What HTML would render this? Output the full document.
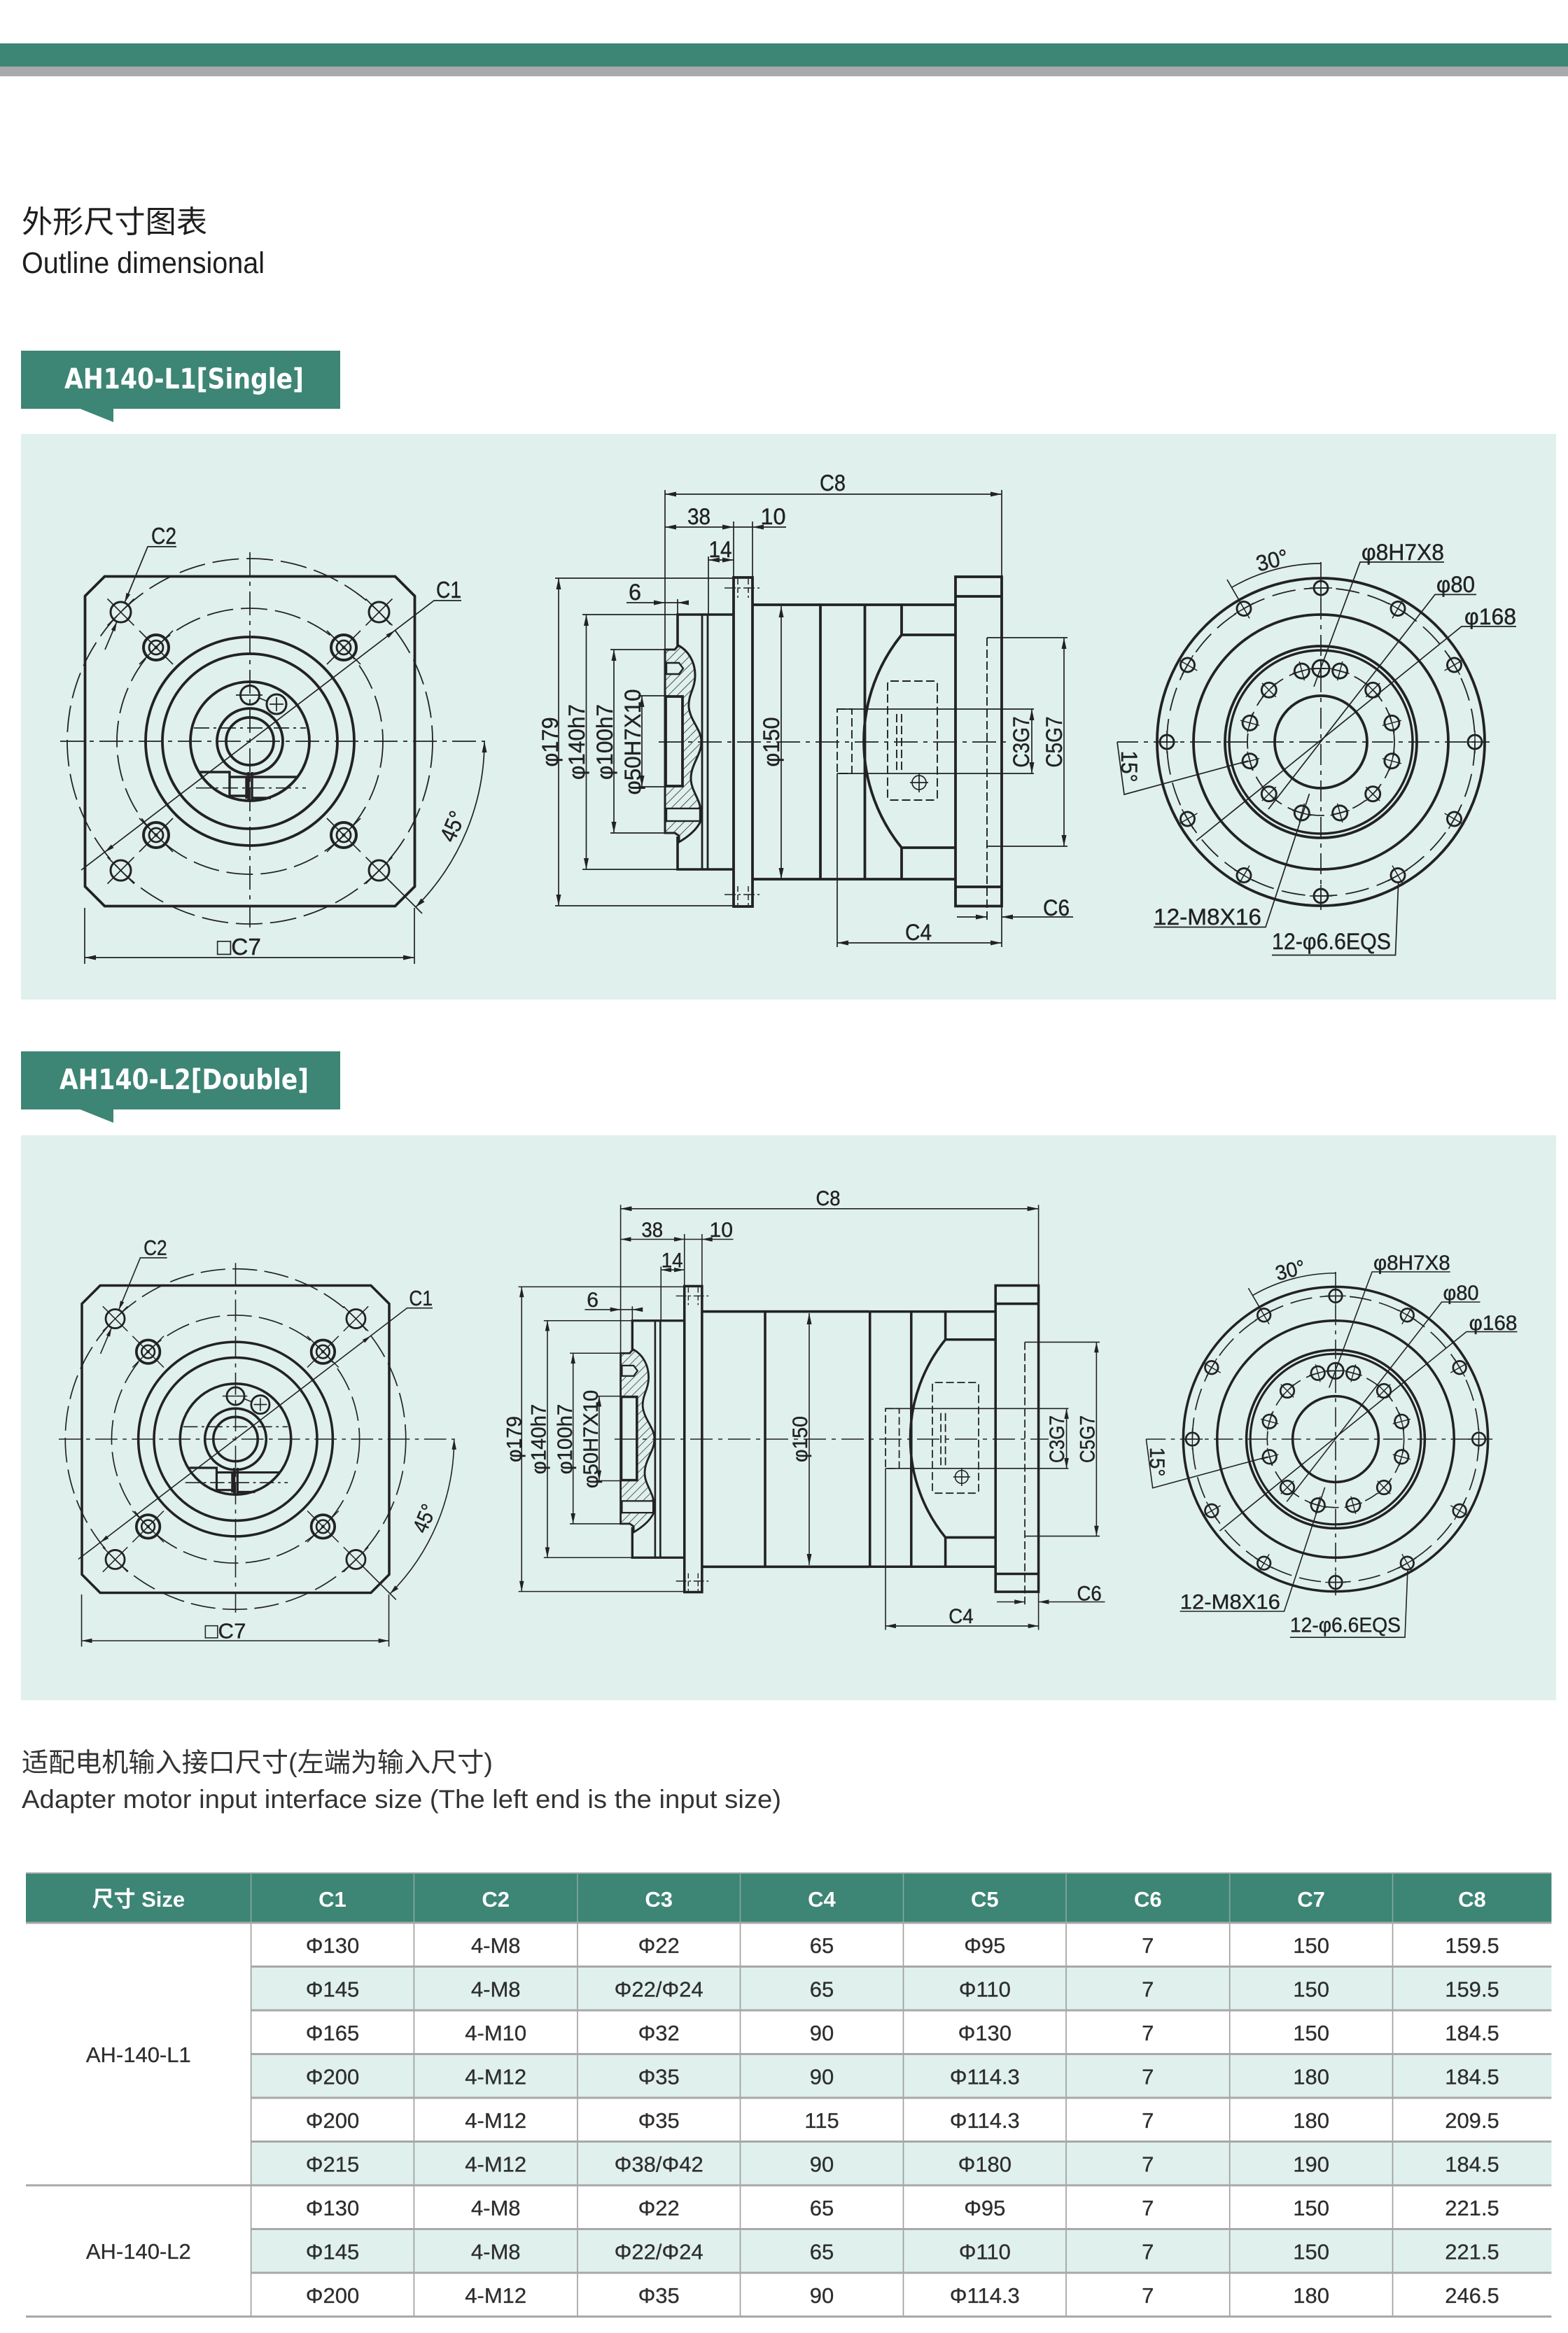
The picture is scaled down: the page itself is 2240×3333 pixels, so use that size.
<!DOCTYPE html>
<html><head><meta charset="utf-8">
<style>
html,body{margin:0;padding:0;background:#fff;}
svg{display:block;}
text{font-family:"Liberation Sans","Noto Sans CJK SC",sans-serif;}
</style></head><body>
<svg xmlns="http://www.w3.org/2000/svg" width="2240" height="3333" viewBox="0 0 2240 3333">
<defs>
 <pattern id="hatch" patternUnits="userSpaceOnUse" width="9" height="9" patternTransform="rotate(45)">
  <line x1="0" y1="0" x2="0" y2="9" stroke="#2a2a2a" stroke-width="1.6"/>
 </pattern>
 <marker id="ar" viewBox="0 0 16 7" refX="16" refY="3.5" markerWidth="16" markerHeight="7" orient="auto-start-reverse" markerUnits="userSpaceOnUse">
  <path d="M0,0 L16,3.5 L0,7 z" fill="#222"/>
 </marker>
 <g id="hA" fill="none" stroke="#222"><circle r="18" stroke-width="4"/><circle r="10" stroke-width="2.8"/><circle r="2.5" fill="#222" stroke="none"/><path stroke-width="1.6" d="M-24,-24 L24,24 M-24,24 L24,-24"/></g>
 <g id="hB" fill="none" stroke="#222"><circle r="14.5" stroke-width="3"/><path stroke-width="1.6" d="M-19,-19 L19,19 M-19,19 L19,-19"/></g>
 <g id="hC" fill="none" stroke="#222"><circle r="10" stroke-width="2.9"/><path stroke-width="1.5" d="M-16,0 H16 M0,-16 V16"/></g>
 <g id="hD" fill="none" stroke="#222"><circle r="10.5" stroke-width="2.9"/><path stroke-width="1.5" d="M-14,0 H14 M0,-14 V14"/></g>

 <g id="fvg" fill="none" stroke="#222">
  <path stroke-width="3.8" d="M-207.5,-235.5 H207.5 L235.5,-207.5 V207.5 L207.5,235.5 H-207.5 L-235.5,207.5 V-207.5 Z"/>
  <g stroke-width="1.8" stroke-dasharray="38 11"><circle r="261"/><circle r="190"/></g>
  <g stroke-width="3.8"><circle r="149"/><circle r="125"/><circle r="85"/><circle r="47"/><circle r="34"/></g>
  <circle cx="0" cy="-66" r="13.5" stroke-width="3"/>
  <circle cx="38" cy="-53" r="14" stroke-width="3"/>
  <path stroke-width="1.7" d="M-20,-66 H18 M28,-53 H48 M38,-63 V-43 M13,-62 L25,-57"/>
  <path stroke-width="1.7" stroke-dasharray="22 6 4 6" d="M-80,-19 H80 M-77,66.7 H80"/>
  <path stroke-width="3.4" d="M-71,44 H-29 V78 H-5 M-29,51 H68 M-5,51 V82 M-2,44 V85 M3,44 V85 M3,81 H30"/>
  <path stroke-width="1.7" stroke-dasharray="34 8 6 8" d="M0,-270 V266 M-271,0 H336"/>
  <use href="#hA" transform="translate(-134,-134)"/><use href="#hA" transform="translate(134,-134)"/>
  <use href="#hA" transform="translate(-134,134)"/><use href="#hA" transform="translate(134,134)"/>
  <use href="#hB" transform="translate(-184.5,-184.5)"/><use href="#hB" transform="translate(184.5,-184.5)"/>
  <use href="#hB" transform="translate(-184.5,184.5)"/><use href="#hB" transform="translate(184.5,184.5)"/>
  <path stroke-width="1.7" d="M-241,184 L263,-201 H302 M-105,-278 H-146 L-179,-198 M-190,-171 L-207,-131 M200,200 L246,246 M-236,238 V318 M235,238 V318 M-236,309 H235 M335,0 A335,335 0 0 1 236.9,236.9"/>
  <g fill="#222" stroke="none">
   <polygon points="207.5,-158.5 198.2,-147.6 194.6,-152.4"/>
   <polygon points="-207.5,158.5 -194.6,152.4 -198.2,147.6"/>
   <polygon points="-179,-197.9 -170.9,-209.8 -176.5,-212"/>
   <polygon points="-190,-171.1 -192.5,-157 -198.1,-159.2"/>
   <polygon points="335,0 331.5,16 338.5,16"/>
   <polygon points="236.9,236.9 249.5,229.5 244.5,224.5"/>
   <polygon points="-236,309 -220,305.5 -220,312.5"/>
   <polygon points="235,309 219,305.5 219,312.5"/>
  </g>
 </g>

 <g id="svL" fill="none" stroke="#222">
  <path fill="url(#hatch)" stroke-width="3" d="M950,928 H964 L969,922 C984,930 993,946 993,965 C993,984 983,992 984,1010 C986,1030 1002,1042 1002,1060 C1002,1078 987,1092 987,1112 C987,1130 1001,1142 1001,1160 L1001,1173 C995,1186 982,1196 970,1203 L970,1194 L964,1190 H950 Z"/>
  <rect x="951" y="995" width="24" height="128" fill="#dff0ed" stroke-width="3.8"/>
  <path d="M952,947 H970 L976,955 L970,963 H952 Z" fill="#dff0ed" stroke-width="2.4"/>
  <rect x="952" y="1155" width="48" height="18" fill="#dff0ed" stroke-width="2.4"/>
  <path stroke-width="3.6" d="M968,925 V878 H1048 M968,1195 V1242 H1048"/>
  <path stroke-width="2.8" d="M1003,878 V1242 M1011,878 V1242"/>
  <rect x="1048" y="825" width="27" height="470" stroke-width="3.8"/>
  <path stroke-width="1.5" stroke-dasharray="8 4" d="M1054,827 V854 M1069,827 V854 M1054,1266 V1293 M1069,1266 V1293"/>
  <path stroke-width="1.5" stroke-dasharray="16 4 3 4" d="M1035,840 H1089 M1035,1278 H1089"/>
  <path stroke-width="1.7" d="M950,700 V928 M1048,745 V825 M1075,745 V825 M1012,795 V878 M968,856 V878 M793,826 H1048 M793,1294 H1048 M832,878 H968 M832,1242 H968 M872,928 H950 M872,1190 H950 M912,994 H953 M912,1124 H953 M895,861 H983 M1048,753 H1123"/>
  <path stroke-width="1.7" marker-start="url(#ar)" marker-end="url(#ar)" d="M950,753 H1048"/>
  <path stroke-width="1.7" marker-start="url(#ar)" marker-end="url(#ar)" d="M1012,800 H1048"/>
  <path stroke-width="1.7" marker-start="url(#ar)" marker-end="url(#ar)" d="M798,826 V1294"/>
  <path stroke-width="1.7" marker-start="url(#ar)" marker-end="url(#ar)" d="M837.5,878 V1242"/>
  <path stroke-width="1.7" marker-start="url(#ar)" marker-end="url(#ar)" d="M877,928 V1190"/>
  <path stroke-width="1.7" marker-start="url(#ar)" marker-end="url(#ar)" d="M917,994 V1124"/>
  <g fill="#222" stroke="none">
   <polygon points="950,861 934,857.5 934,864.5"/>
   <polygon points="968,861 984,857.5 984,864.5"/>
   <polygon points="1075,753 1091,749.5 1091,756.5"/>
  </g>
 </g>

 <g id="svR" fill="none" stroke="#222">
  <path stroke-width="3.8" d="M1172,864 H1365 M1172,1256 H1365 M1172,864 V1256 M1235.5,864 V1256 M1288,864 V907 A241,241 0 0 0 1288,1211 V1256 M1288,907 H1365 M1288,1211 H1365 M1365,852 H1431 M1365,1267 H1431"/>
  <rect x="1365" y="824" width="66" height="470.5" stroke-width="3.8"/>
  <g stroke-width="1.9" stroke-dasharray="12 5">
   <path d="M1410,911 V1316"/>
   <rect x="1196" y="1013" width="21" height="92"/>
   <rect x="1268" y="973" width="71" height="170" rx="4"/>
   <path d="M1281,1020 V1100 M1288,1020 V1100"/>
  </g>
  <circle cx="1313" cy="1118" r="10" stroke-width="1.7"/>
  <path stroke-width="1.7" d="M1313,1104 V1132 M1300,1118 H1326"/>
  <path stroke-width="1.7" d="M1196,1013 H1477 M1196,1105 H1477 M1410,911 H1525 M1410,1209 H1525 M1196,1105 V1353 M1431,1294 V1353 M1431,700 V824"/>
  <path stroke-width="1.7" marker-start="url(#ar)" marker-end="url(#ar)" d="M1474,1013 V1105"/>
  <path stroke-width="1.7" marker-start="url(#ar)" marker-end="url(#ar)" d="M1520,911 V1209"/>
  <path stroke-width="1.7" marker-start="url(#ar)" marker-end="url(#ar)" d="M1196,1347 H1431"/>
  <path stroke-width="1.7" marker-end="url(#ar)" d="M1367,1310 H1410"/>
  <path stroke-width="1.7" marker-end="url(#ar)" d="M1533,1310 H1431"/>
 </g>

 <g id="rvg" fill="none" stroke="#222">
  <g stroke-width="3.8"><circle r="234"/><circle r="182"/><circle r="137"/><circle r="66"/></g>
  <circle r="131" stroke-width="3.4"/>
  <circle r="220" stroke-width="1.8" stroke-dasharray="34 12"/>
  <circle r="105" stroke-width="1.8" stroke-dasharray="22 10"/>
  <path stroke-width="1.7" stroke-dasharray="30 8 6 8" d="M-291,0 H241 M0,-257 V240"/>
  <use href="#hC" transform="translate(220,0)"/>
  <use href="#hC" transform="translate(190.5,110) rotate(30)"/>
  <use href="#hC" transform="translate(110,190.5) rotate(60)"/>
  <use href="#hC" transform="translate(0,220)"/>
  <use href="#hC" transform="translate(-110,190.5) rotate(120)"/>
  <use href="#hC" transform="translate(-190.5,110) rotate(150)"/>
  <use href="#hC" transform="translate(-220,0)"/>
  <use href="#hC" transform="translate(-190.5,-110) rotate(210)"/>
  <use href="#hC" transform="translate(-110,-190.5) rotate(240)"/>
  <use href="#hC" transform="translate(0,-220)"/>
  <use href="#hC" transform="translate(110,-190.5) rotate(300)"/>
  <use href="#hC" transform="translate(190.5,-110) rotate(330)"/>
  <use href="#hD" transform="translate(101.4,27.2) rotate(15)"/>
  <use href="#hD" transform="translate(74.2,74.2) rotate(45)"/>
  <use href="#hD" transform="translate(27.2,101.4) rotate(75)"/>
  <use href="#hD" transform="translate(-27.2,101.4) rotate(105)"/>
  <use href="#hD" transform="translate(-74.2,74.2) rotate(135)"/>
  <use href="#hD" transform="translate(-101.4,27.2) rotate(165)"/>
  <use href="#hD" transform="translate(-101.4,-27.2) rotate(195)"/>
  <use href="#hD" transform="translate(-74.2,-74.2) rotate(225)"/>
  <use href="#hD" transform="translate(-27.2,-101.4) rotate(255)"/>
  <use href="#hD" transform="translate(27.2,-101.4) rotate(285)"/>
  <use href="#hD" transform="translate(74.2,-74.2) rotate(315)"/>
  <use href="#hD" transform="translate(101.4,-27.2) rotate(345)"/>
  <circle cx="0" cy="-105" r="12" stroke-width="3"/>
  <path stroke-width="1.7" d="M-12,-105 H12 M0,-117 V-93"/>
  <path stroke-width="1.7" d="M-127.5,-220.8 A255,255 0 0 1 0,-255 M-116,-201 L-134,-232 M-10,-79 L56,-257 H176 M-75,96 L163,-210.6 H222 M-178,141 L201,-165 H279 M-291,0 L-281,75 L-104,27 M-239,264.5 H-79 L-16.5,74 M-70,304.5 H106.5 L110.7,201"/>
 </g>
</defs>

<rect x="0" y="62" width="2240" height="33" fill="#3d8575"/>
<rect x="0" y="95" width="2240" height="14" fill="#a7a9ac"/>

<text x="31" y="332" font-size="44" fill="#1e1e1e" textLength="265" lengthAdjust="spacingAndGlyphs">外形尺寸图表</text>
<text x="31" y="390" font-size="43" fill="#1e1e1e" textLength="347" lengthAdjust="spacingAndGlyphs">Outline dimensional</text>

<rect x="30" y="501" width="456" height="83" fill="#3d8575"/>
<polygon points="112,583 162,583 162,603" fill="#3d8575"/>
<text x="92" y="555" font-size="40" font-weight="bold" fill="#fff" style="font-family:'DejaVu Sans','Liberation Sans',sans-serif" textLength="342" lengthAdjust="spacingAndGlyphs">AH140-L1[Single]</text>

<rect x="30" y="620" width="2193" height="808" fill="#dff0ed"/>
<use href="#fvg" transform="translate(357,1059)"/>
<g transform="translate(357,1059)" font-size="33" fill="#222" stroke="#222" stroke-width="0.4">
 <text x="-141" y="-282" textLength="36" lengthAdjust="spacingAndGlyphs">C2</text>
 <text x="266" y="-205" textLength="36" lengthAdjust="spacingAndGlyphs">C1</text>
 <text transform="translate(300,126) rotate(-67)" text-anchor="middle" textLength="44" lengthAdjust="spacingAndGlyphs">45°</text>
 <text x="-47" y="305" textLength="63" lengthAdjust="spacingAndGlyphs">□C7</text>
</g>

<use href="#svL"/>
<use href="#svR"/>
<g fill="none" stroke="#222">
 <path stroke-width="3.8" d="M1075,864 H1172 M1075,1256 H1172"/>
 <path stroke-width="1.7" marker-start="url(#ar)" marker-end="url(#ar)" d="M1116,866 V1256"/>
 <path stroke-width="1.7" marker-start="url(#ar)" marker-end="url(#ar)" d="M950,706 H1431"/>
 <path stroke-width="1.7" stroke-dasharray="34 8 6 8" d="M941,1060 H1441"/>
</g>
<g font-size="32" fill="#222" stroke="#222" stroke-width="0.4">
 <text x="1189.5" y="701" text-anchor="middle" textLength="37" lengthAdjust="spacingAndGlyphs">C8</text>
 <text transform="translate(1113,1060) rotate(-90)" text-anchor="middle" textLength="71" lengthAdjust="spacingAndGlyphs">φ150</text>
 <text x="998.5" y="749" text-anchor="middle" textLength="33" lengthAdjust="spacingAndGlyphs">38</text>
 <text x="1086.5" y="749" textLength="36" lengthAdjust="spacingAndGlyphs">10</text>
 <text x="1012.5" y="796" textLength="33" lengthAdjust="spacingAndGlyphs">14</text>
 <text x="898" y="857" textLength="18" lengthAdjust="spacingAndGlyphs">6</text>
 <text transform="translate(797,1060) rotate(-90)" text-anchor="middle" textLength="71" lengthAdjust="spacingAndGlyphs">φ179</text>
 <text transform="translate(835,1060) rotate(-90)" text-anchor="middle" textLength="108" lengthAdjust="spacingAndGlyphs">φ140h7</text>
 <text transform="translate(875,1060) rotate(-90)" text-anchor="middle" textLength="108" lengthAdjust="spacingAndGlyphs">φ100h7</text>
 <text transform="translate(915,1060) rotate(-90)" text-anchor="middle" textLength="151" lengthAdjust="spacingAndGlyphs">φ50H7X10</text>
 <text transform="translate(1470,1060) rotate(-90)" text-anchor="middle" textLength="73" lengthAdjust="spacingAndGlyphs">C3G7</text>
 <text transform="translate(1517,1060) rotate(-90)" text-anchor="middle" textLength="73" lengthAdjust="spacingAndGlyphs">C5G7</text>
 <text x="1312" y="1343" text-anchor="middle" textLength="38" lengthAdjust="spacingAndGlyphs">C4</text>
 <text x="1490" y="1308" textLength="38" lengthAdjust="spacingAndGlyphs">C6</text>
</g>

<use href="#rvg" transform="translate(1887,1060)"/>
<g transform="translate(1887,1060)" font-size="32" fill="#222" stroke="#222" stroke-width="0.4">
 <text x="58" y="-260" textLength="118" lengthAdjust="spacingAndGlyphs">φ8H7X8</text>
 <text x="165" y="-214" textLength="55" lengthAdjust="spacingAndGlyphs">φ80</text>
 <text x="205" y="-168" textLength="74" lengthAdjust="spacingAndGlyphs">φ168</text>
 <text transform="translate(-67,-249) rotate(-14)" text-anchor="middle" textLength="46" lengthAdjust="spacingAndGlyphs">30°</text>
 <text transform="translate(-285,35) rotate(90)" text-anchor="middle" textLength="45" lengthAdjust="spacingAndGlyphs">15°</text>
 <text x="-239" y="261" textLength="154" lengthAdjust="spacingAndGlyphs">12-M8X16</text>
 <text x="-70" y="296" textLength="170" lengthAdjust="spacingAndGlyphs">12-φ6.6EQS</text>
</g>

<rect x="30" y="1502" width="456" height="83" fill="#3d8575"/>
<polygon points="112,1584 162,1584 162,1604" fill="#3d8575"/>
<text x="85" y="1556" font-size="40" font-weight="bold" fill="#fff" style="font-family:'DejaVu Sans','Liberation Sans',sans-serif" textLength="356" lengthAdjust="spacingAndGlyphs">AH140-L2[Double]</text>

<rect x="30" y="1622" width="2193" height="807" fill="#dff0ed"/>
<use href="#fvg" transform="translate(336.5,2056) scale(0.932)"/>
<g transform="translate(336.5,2056) scale(0.932)" font-size="33" fill="#222" stroke="#222" stroke-width="0.4">
 <text x="-141" y="-282" textLength="36" lengthAdjust="spacingAndGlyphs">C2</text>
 <text x="266" y="-205" textLength="36" lengthAdjust="spacingAndGlyphs">C1</text>
 <text transform="translate(300,126) rotate(-67)" text-anchor="middle" textLength="44" lengthAdjust="spacingAndGlyphs">45°</text>
 <text x="-47" y="305" textLength="63" lengthAdjust="spacingAndGlyphs">□C7</text>
</g>

<use href="#svL" transform="translate(886.6,2056) scale(0.93) translate(-950,-1060)"/>
<use href="#svR" transform="translate(1483.6,2056) scale(0.93) translate(-1431,-1060)"/>
<g fill="none" stroke="#222">
 <path stroke-width="3.6" d="M1002.8,1873.7 H1242.7 M1002.8,2238.3 H1242.7 M1093,1873.7 V2238.3"/>
 <path stroke-width="1.6" marker-start="url(#ar)" marker-end="url(#ar)" d="M1156,1876 V2236"/>
 <path stroke-width="1.6" marker-start="url(#ar)" marker-end="url(#ar)" d="M886.6,1726.8 H1483.6"/>
 <path stroke-width="1.6" stroke-dasharray="32 8 6 8" d="M878,2056 H1498"/>
</g>
<g font-size="30" fill="#222" stroke="#222" stroke-width="0.4">
 <text x="1183" y="1722" text-anchor="middle" textLength="35" lengthAdjust="spacingAndGlyphs">C8</text>
 <text transform="translate(1153,2056) rotate(-90)" text-anchor="middle" textLength="66" lengthAdjust="spacingAndGlyphs">φ150</text>
</g>
<g transform="translate(886.6,2056) scale(0.93) translate(-950,-1060)" font-size="32" fill="#222" stroke="#222" stroke-width="0.4">
 <text x="998.5" y="749" text-anchor="middle" textLength="33" lengthAdjust="spacingAndGlyphs">38</text>
 <text x="1086.5" y="749" textLength="36" lengthAdjust="spacingAndGlyphs">10</text>
 <text x="1012.5" y="796" textLength="33" lengthAdjust="spacingAndGlyphs">14</text>
 <text x="898" y="857" textLength="18" lengthAdjust="spacingAndGlyphs">6</text>
 <text transform="translate(797,1060) rotate(-90)" text-anchor="middle" textLength="71" lengthAdjust="spacingAndGlyphs">φ179</text>
 <text transform="translate(835,1060) rotate(-90)" text-anchor="middle" textLength="108" lengthAdjust="spacingAndGlyphs">φ140h7</text>
 <text transform="translate(875,1060) rotate(-90)" text-anchor="middle" textLength="108" lengthAdjust="spacingAndGlyphs">φ100h7</text>
 <text transform="translate(915,1060) rotate(-90)" text-anchor="middle" textLength="151" lengthAdjust="spacingAndGlyphs">φ50H7X10</text>
</g>
<g transform="translate(1483.6,2056) scale(0.93) translate(-1431,-1060)" font-size="32" fill="#222" stroke="#222" stroke-width="0.4">
 <text transform="translate(1470,1060) rotate(-90)" text-anchor="middle" textLength="73" lengthAdjust="spacingAndGlyphs">C3G7</text>
 <text transform="translate(1517,1060) rotate(-90)" text-anchor="middle" textLength="73" lengthAdjust="spacingAndGlyphs">C5G7</text>
 <text x="1312" y="1343" text-anchor="middle" textLength="38" lengthAdjust="spacingAndGlyphs">C4</text>
 <text x="1490" y="1308" textLength="38" lengthAdjust="spacingAndGlyphs">C6</text>
</g>

<use href="#rvg" transform="translate(1908,2056) scale(0.93)"/>
<g transform="translate(1908,2056) scale(0.93)" font-size="32" fill="#222" stroke="#222" stroke-width="0.4">
 <text x="58" y="-260" textLength="118" lengthAdjust="spacingAndGlyphs">φ8H7X8</text>
 <text x="165" y="-214" textLength="55" lengthAdjust="spacingAndGlyphs">φ80</text>
 <text x="205" y="-168" textLength="74" lengthAdjust="spacingAndGlyphs">φ168</text>
 <text transform="translate(-67,-249) rotate(-14)" text-anchor="middle" textLength="46" lengthAdjust="spacingAndGlyphs">30°</text>
 <text transform="translate(-285,35) rotate(90)" text-anchor="middle" textLength="45" lengthAdjust="spacingAndGlyphs">15°</text>
 <text x="-239" y="261" textLength="154" lengthAdjust="spacingAndGlyphs">12-M8X16</text>
 <text x="-70" y="296" textLength="170" lengthAdjust="spacingAndGlyphs">12-φ6.6EQS</text>
</g>

<text x="31" y="2531" font-size="38" fill="#333" textLength="673" lengthAdjust="spacingAndGlyphs">适配电机输入接口尺寸(左端为输入尺寸)</text>
<text x="31" y="2583" font-size="37" fill="#333" textLength="1085" lengthAdjust="spacingAndGlyphs">Adapter motor input interface size (The left end is the input size)</text>

<rect x="37" y="2676" width="2179.4" height="71" fill="#3d8575"/>
<line x1="37" y1="2676" x2="2216.4" y2="2676" stroke="#9aa7a3" stroke-width="2"/>
<g fill="#dff0ed">
 <rect x="358.6" y="2809.5" width="1857.8" height="62.5"/>
 <rect x="358.6" y="2934.5" width="1857.8" height="62.5"/>
 <rect x="358.6" y="3059.5" width="1857.8" height="62.5"/>
 <rect x="358.6" y="3184.5" width="1857.8" height="62.5"/>
</g>
<g stroke="#86a99f" stroke-width="1.6">
 <path d="M358.6,2676 V2747 M591.4,2676 V2747 M825,2676 V2747 M1057.5,2676 V2747 M1290.5,2676 V2747 M1523,2676 V2747 M1756.7,2676 V2747 M1989.5,2676 V2747"/>
</g>
<g stroke="#9c9c9c" stroke-width="1.6">
 <path d="M358.6,2747 V3309.5 M591.4,2747 V3309.5 M825,2747 V3309.5 M1057.5,2747 V3309.5 M1290.5,2747 V3309.5 M1523,2747 V3309.5 M1756.7,2747 V3309.5 M1989.5,2747 V3309.5"/>
</g>
<g stroke="#a8a8a8" stroke-width="3">
 <path d="M37,2747 H2216.4 M358.6,2809.5 H2216.4 M358.6,2872 H2216.4 M358.6,2934.5 H2216.4 M358.6,2997 H2216.4 M358.6,3059.5 H2216.4 M37,3122 H2216.4 M358.6,3184.5 H2216.4 M358.6,3247 H2216.4 M37,3309.5 H2216.4"/>
</g>
<g font-size="31" font-weight="bold" fill="#fff" text-anchor="middle">
 <text y="2724"><tspan x="197.8">尺寸 Size</tspan><tspan x="475">C1</tspan><tspan x="708.2">C2</tspan><tspan x="941.2">C3</tspan><tspan x="1174">C4</tspan><tspan x="1406.8">C5</tspan><tspan x="1639.8">C6</tspan><tspan x="1873.1">C7</tspan><tspan x="2103">C8</tspan></text>
</g>
<g font-size="31" fill="#2e2e2e" text-anchor="middle" stroke="#2e2e2e" stroke-width="0.3">
 <text x="197.8" y="2946">AH-140-L1</text>
 <text x="197.8" y="3227">AH-140-L2</text>
 <text y="2790"><tspan x="475">Φ130</tspan><tspan x="708.2">4-M8</tspan><tspan x="941.2">Φ22</tspan><tspan x="1174">65</tspan><tspan x="1406.8">Φ95</tspan><tspan x="1639.8">7</tspan><tspan x="1873.1">150</tspan><tspan x="2103">159.5</tspan></text>
 <text y="2852.5"><tspan x="475">Φ145</tspan><tspan x="708.2">4-M8</tspan><tspan x="941.2">Φ22/Φ24</tspan><tspan x="1174">65</tspan><tspan x="1406.8">Φ110</tspan><tspan x="1639.8">7</tspan><tspan x="1873.1">150</tspan><tspan x="2103">159.5</tspan></text>
 <text y="2915"><tspan x="475">Φ165</tspan><tspan x="708.2">4-M10</tspan><tspan x="941.2">Φ32</tspan><tspan x="1174">90</tspan><tspan x="1406.8">Φ130</tspan><tspan x="1639.8">7</tspan><tspan x="1873.1">150</tspan><tspan x="2103">184.5</tspan></text>
 <text y="2977.5"><tspan x="475">Φ200</tspan><tspan x="708.2">4-M12</tspan><tspan x="941.2">Φ35</tspan><tspan x="1174">90</tspan><tspan x="1406.8">Φ114.3</tspan><tspan x="1639.8">7</tspan><tspan x="1873.1">180</tspan><tspan x="2103">184.5</tspan></text>
 <text y="3040"><tspan x="475">Φ200</tspan><tspan x="708.2">4-M12</tspan><tspan x="941.2">Φ35</tspan><tspan x="1174">115</tspan><tspan x="1406.8">Φ114.3</tspan><tspan x="1639.8">7</tspan><tspan x="1873.1">180</tspan><tspan x="2103">209.5</tspan></text>
 <text y="3102.5"><tspan x="475">Φ215</tspan><tspan x="708.2">4-M12</tspan><tspan x="941.2">Φ38/Φ42</tspan><tspan x="1174">90</tspan><tspan x="1406.8">Φ180</tspan><tspan x="1639.8">7</tspan><tspan x="1873.1">190</tspan><tspan x="2103">184.5</tspan></text>
 <text y="3165"><tspan x="475">Φ130</tspan><tspan x="708.2">4-M8</tspan><tspan x="941.2">Φ22</tspan><tspan x="1174">65</tspan><tspan x="1406.8">Φ95</tspan><tspan x="1639.8">7</tspan><tspan x="1873.1">150</tspan><tspan x="2103">221.5</tspan></text>
 <text y="3227.5"><tspan x="475">Φ145</tspan><tspan x="708.2">4-M8</tspan><tspan x="941.2">Φ22/Φ24</tspan><tspan x="1174">65</tspan><tspan x="1406.8">Φ110</tspan><tspan x="1639.8">7</tspan><tspan x="1873.1">150</tspan><tspan x="2103">221.5</tspan></text>
 <text y="3290"><tspan x="475">Φ200</tspan><tspan x="708.2">4-M12</tspan><tspan x="941.2">Φ35</tspan><tspan x="1174">90</tspan><tspan x="1406.8">Φ114.3</tspan><tspan x="1639.8">7</tspan><tspan x="1873.1">180</tspan><tspan x="2103">246.5</tspan></text>
</g>
</svg>
</body></html>
